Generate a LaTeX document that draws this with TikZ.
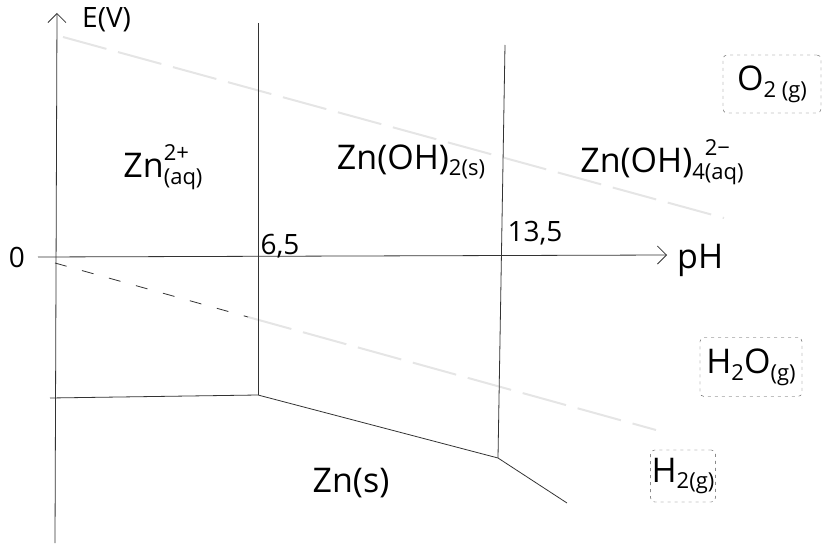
\documentclass[tikz,border=0pt]{standalone}
\usepackage{fontspec}
\setmainfont{Open Sans}
\usetikzlibrary{positioning,arrows.meta}
\newcommand{\hsup}[1]{\raisebox{0.5em}{\fontsize{22}{22}\selectfont #1}}
\newcommand{\hsub}[1]{\raisebox{-0.2em}{\fontsize{22}{22}\selectfont #1}}

\begin{document}
\begin{tikzpicture}[x=1pt, y=-1pt, font=\fontsize{34}{38}\selectfont,
  ln/.style={draw=black!80, line width=0.8pt},
  ax/.style={ln, -{Straight Barb[length=9pt, width=18pt]}},
  wl/.style={draw=gray!20, line width=2pt, dash pattern=on 45pt off 12pt},
  sm/.style={font=\fontsize{28}{32}\selectfont, inner sep=0pt},
  bx/.style={draw=black!70, dash pattern=on 3pt off 4pt, rounded corners=4pt, inner sep=1pt}]
\useasboundingbox (0,0) rectangle (823,551);
% axes
\coordinate (eo) at (55,543);
\coordinate (et) at (57,13);
\coordinate (po) at (38,257);
\coordinate (pt) at (667,255);
\draw[ax] (eo) -- (et);
\draw[ax] (po) -- (pt);
\node[sm, right=25pt of et, yshift=-7pt] (ev) {E(V)};
\node[sm, left=13pt of po] (zero) {0};
\node[right=10pt of pt, yshift=-5pt, inner sep=0pt] (ph) {pH};
% water lines
\coordinate (ob1) at (63,37); \coordinate (ob2) at (724,218);
\coordinate (hb1) at (55,263); \coordinate (hb2) at (248,317); \coordinate (hb3) at (656,430);
\draw[wl] (ob1) -- (ob2);
\draw[wl] (hb2) -- (hb3);
\draw[ln, dash pattern=on 12pt off 16pt] (hb1) -- (hb2);
% boundaries
\coordinate (v1t) at (258,23); \coordinate (v1b) at (258,395);
\coordinate (v2t) at (505,45); \coordinate (v2b) at (498,458);
\coordinate (zl) at (50,398); \coordinate (ze) at (567,503);
\draw[ln] (v1t) -- (v1b);
\draw[ln] (v2t) -- (v2b);
\draw[ln] (zl) -- (v1b) -- (v2b) -- (ze);
\node[sm] (p65) at (280,246) {6,5};
\node[sm] (p135) at (535,233) {13,5};
% species
\node (zn2) at (163,167) {Zn\rlap{\hsup{2+}}\hsub{(aq)}};
\node (znoh2) at (411,162) {Zn(OH)\hsub{2(s)}};
\node (znoh4) at (662,162) {Zn(OH)\hsub{4}\rlap{\hsup{2−}}\hsub{(aq)}};
\node (zns) at (351,483) {Zn(s)};
% gases
\node[bx, minimum width=98pt, minimum height=58pt] (o2) at (772,84) {O\hsub{2 (g)}};
\node[bx, minimum width=102pt, minimum height=59pt] (h2o) at (751,367) {H\hsub{2}O\hsub{(g)}};
\node[bx, minimum width=62pt, minimum height=52pt] (h2) at (683,476) {H\hsub{2(g)}};
\end{tikzpicture}
\end{document}
